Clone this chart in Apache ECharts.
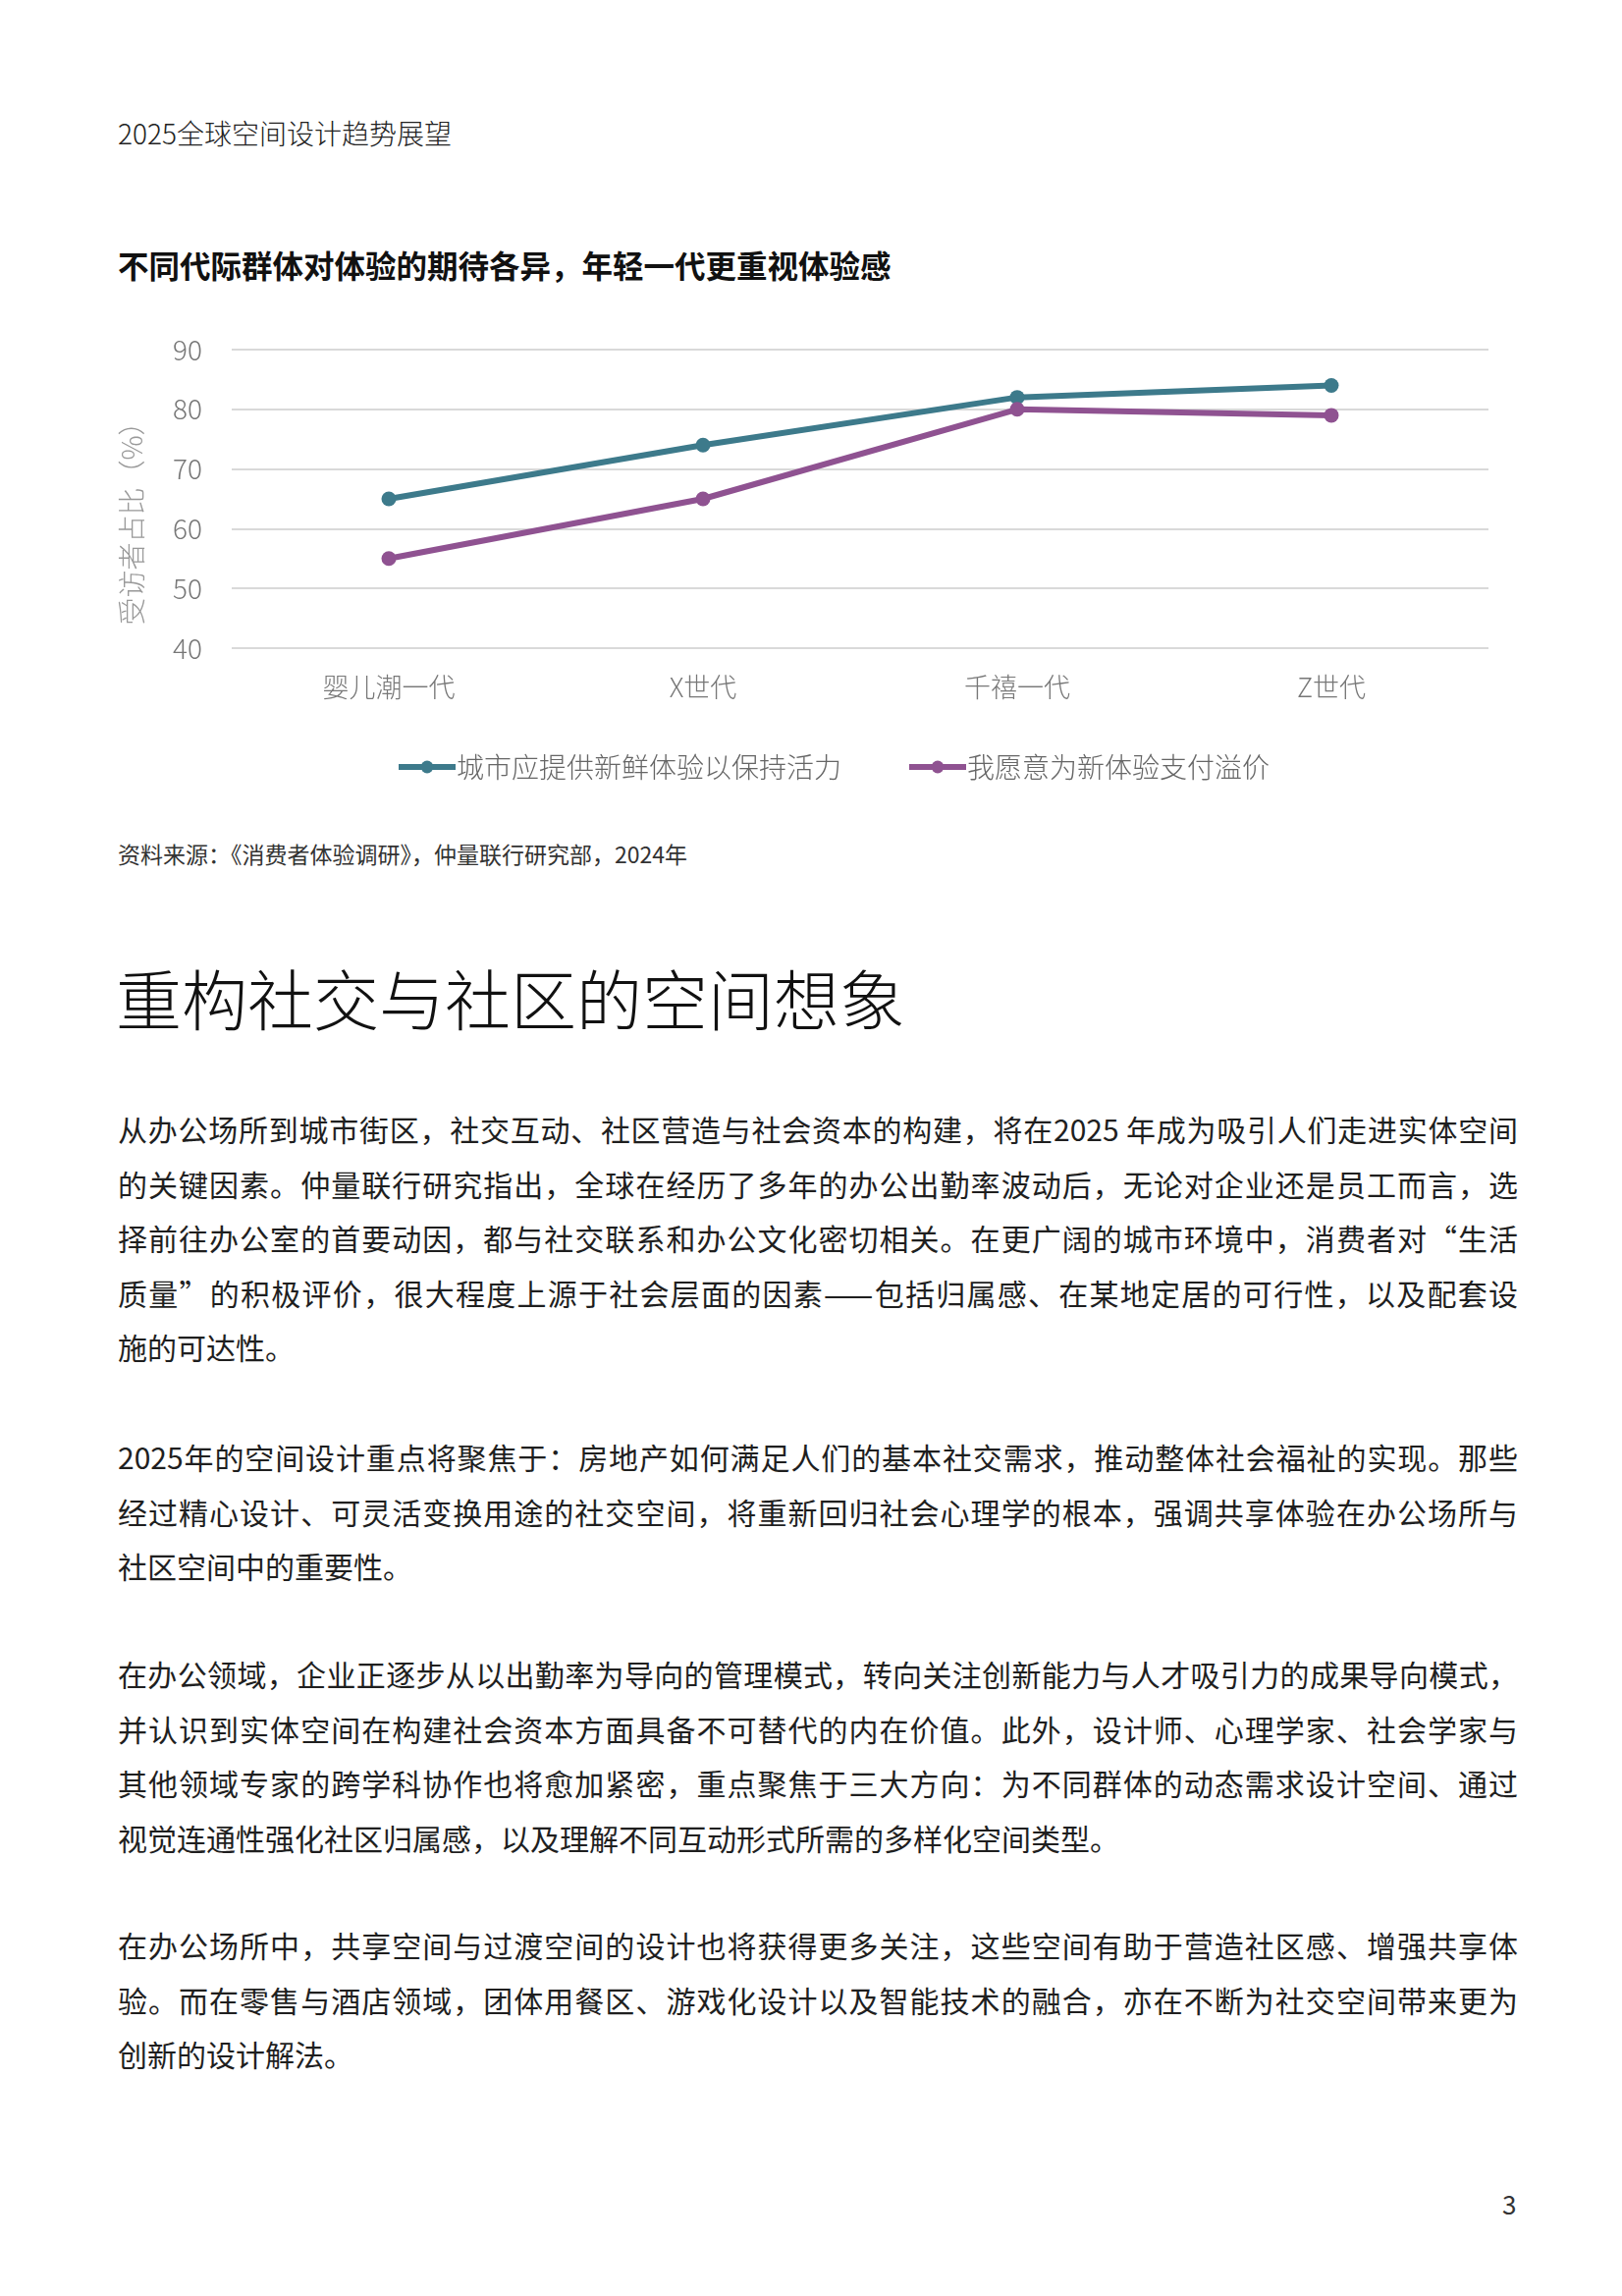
<!DOCTYPE html>
<html>
<head>
<meta charset="utf-8">
<script src="https://cdn.jsdelivr.net/npm/echarts@6/dist/echarts.min.js"></script>
<style>
  html, body { margin: 0; padding: 0; background: #fff; }
  body { width: 1652px; height: 2338px; position: relative; overflow: hidden;
         font-family: "Noto Sans CJK SC", "Noto Sans", sans-serif; color: #1a1a1a; }
  .abs { position: absolute; white-space: nowrap; }
  .para { position: absolute; left: 120px; width: 1426px; font-size: 30px; line-height: 55.5px; color: #1f1f1f; }
  .para span { display: block; text-align: justify; text-align-last: justify; white-space: nowrap; }
  .para span.last { text-align-last: left; }
</style>
</head>
<body>
<div class="abs" style="left:120px; top:115px; font-size:28px; color:#222; font-weight:300;">2025全球空间设计趋势展望</div>
<div class="abs" style="left:120px; top:246px; font-size:31.5px; font-weight:700; color:#111;">不同代际群体对体验的期待各异，年轻一代更重视体验感</div>

<div id="chart" style="position:absolute; left:0; top:300px; width:1652px; height:520px;"></div>

<div class="abs" style="left:120px; top:852px; font-size:23px; color:#333;">资料来源：《消费者体验调研》，仲量联行研究部，2024年</div>

<div class="abs" style="left:118px; top:966px; font-size:67px; font-weight:300; color:#111;">重构社交与社区的空间想象</div>

<div class="para" style="top:1122px;">
  <span>从办公场所到城市街区，社交互动、社区营造与社会资本的构建，将在2025 年成为吸引人们走进实体空间</span>
  <span>的关键因素。仲量联行研究指出，全球在经历了多年的办公出勤率波动后，无论对企业还是员工而言，选</span>
  <span>择前往办公室的首要动因，都与社交联系和办公文化密切相关。在更广阔的城市环境中，消费者对“生活</span>
  <span>质量”的积极评价，很大程度上源于社会层面的因素——包括归属感、在某地定居的可行性，以及配套设</span>
  <span class="last">施的可达性。</span>
</div>
<div class="para" style="top:1456px;">
  <span>2025年的空间设计重点将聚焦于：房地产如何满足人们的基本社交需求，推动整体社会福祉的实现。那些</span>
  <span>经过精心设计、可灵活变换用途的社交空间，将重新回归社会心理学的根本，强调共享体验在办公场所与</span>
  <span class="last">社区空间中的重要性。</span>
</div>
<div class="para" style="top:1677px;">
  <span>在办公领域，企业正逐步从以出勤率为导向的管理模式，转向关注创新能力与人才吸引力的成果导向模式，</span>
  <span>并认识到实体空间在构建社会资本方面具备不可替代的内在价值。此外，设计师、心理学家、社会学家与</span>
  <span>其他领域专家的跨学科协作也将愈加紧密，重点聚焦于三大方向：为不同群体的动态需求设计空间、通过</span>
  <span class="last">视觉连通性强化社区归属感，以及理解不同互动形式所需的多样化空间类型。</span>
</div>
<div class="para" style="top:1953px;">
  <span>在办公场所中，共享空间与过渡空间的设计也将获得更多关注，这些空间有助于营造社区感、增强共享体</span>
  <span>验。而在零售与酒店领域，团体用餐区、游戏化设计以及智能技术的融合，亦在不断为社交空间带来更为</span>
  <span class="last">创新的设计解法。</span>
</div>

<div class="abs" style="left:1530px; top:2225px; font-size:26px; color:#333;">3</div>

<script>
// generations on the x axis
const generations = ['婴儿潮一代', 'X世代', '千禧一代', 'Z世代'];
// share of respondents (%)
const cityFreshExperience = [65, 74, 82, 84];
const payPremium = [55, 65, 80, 79];
const seriesNames = ['城市应提供新鲜体验以保持活力', '我愿意为新体验支付溢价'];
const seriesColors = ['#3d7a8b', '#8f5291'];

const chart = echarts.init(document.getElementById('chart'));
const labelFont = { fontFamily: '"Noto Sans CJK SC", sans-serif', fontWeight: 300 };

const makeSeries = (name, data, color) => ({
  name,
  type: 'line',
  data,
  symbol: 'circle',
  symbolSize: 15,
  lineStyle: { width: 6, color },
  itemStyle: { color },
  emphasis: { disabled: true }
});

chart.setOption({
  animation: false,
  grid: { left: 236, right: 136, top: 56, bottom: 160 },
  legend: {
    left: 398,
    top: 462,
    itemWidth: 58,
    itemHeight: 16,
    itemGap: 66,
    lineStyle: { width: 6 },
    textStyle: Object.assign({ fontSize: 28, color: '#666', padding: [0, 0, 0, -4] }, labelFont),
    data: seriesNames
  },
  xAxis: {
    type: 'category',
    data: generations,
    axisLine: { show: false },
    axisTick: { show: false },
    axisLabel: Object.assign({ fontSize: 27, color: '#777', margin: 26 }, labelFont)
  },
  yAxis: {
    type: 'value',
    min: 40,
    max: 90,
    interval: 10,
    name: '受访者占比（%）',
    nameLocation: 'middle',
    nameGap: 88,
    nameTextStyle: Object.assign({ fontSize: 28, color: '#999', padding: [0, 36, 0, 0] }, labelFont),
    axisLine: { show: false },
    axisTick: { show: false },
    axisLabel: Object.assign({ fontSize: 28, color: '#777', margin: 30 }, labelFont),
    splitLine: { lineStyle: { color: '#d9d9d9', width: 2 } }
  },
  series: [
    makeSeries(seriesNames[0], cityFreshExperience, seriesColors[0]),
    makeSeries(seriesNames[1], payPremium, seriesColors[1])
  ]
});
</script>
</body>
</html>
